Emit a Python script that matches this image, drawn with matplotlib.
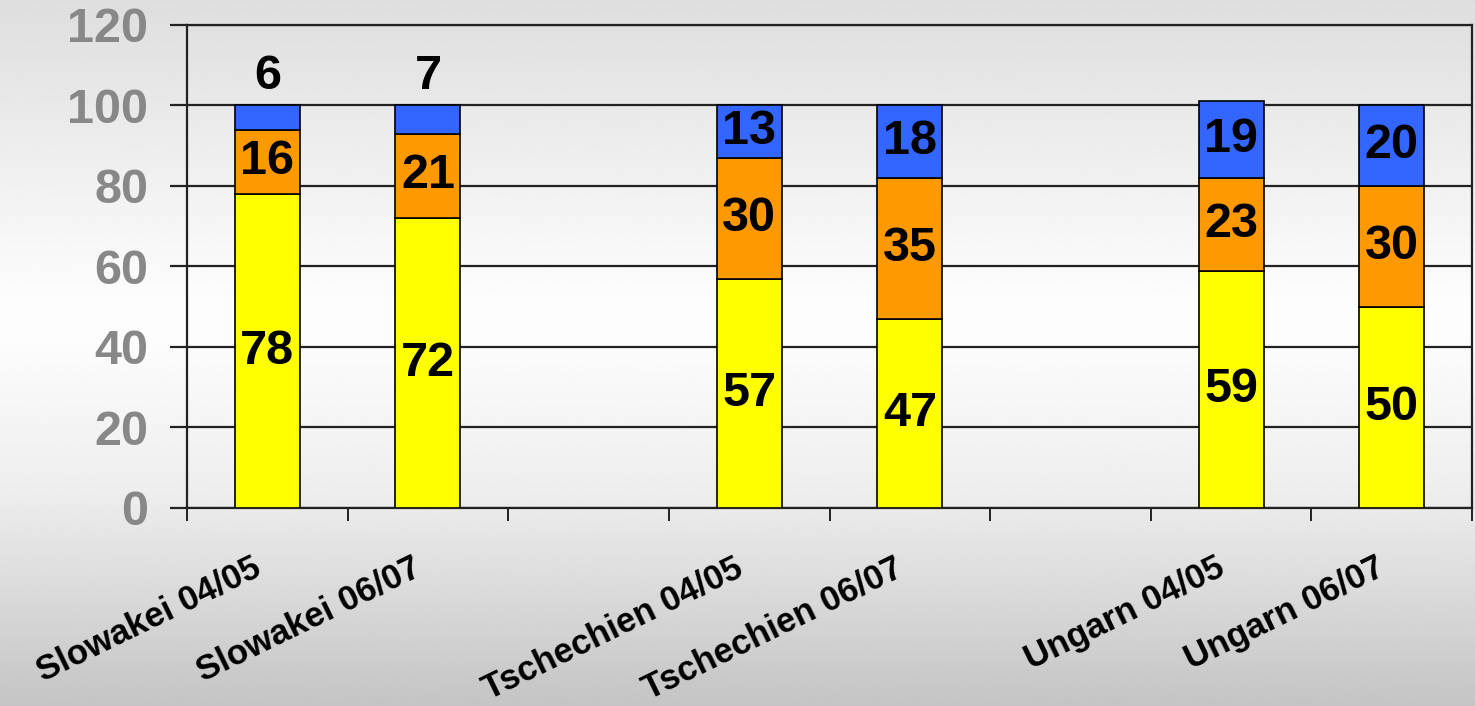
import numpy as np
import matplotlib.pyplot as plt
from matplotlib.ticker import FixedLocator
from matplotlib.transforms import ScaledTranslation

plt.rcParams['font.family'] = ['Liberation Sans', 'DejaVu Sans']

# data
kategorien = ['Slowakei 04/05', 'Slowakei 06/07',
              'Tschechien 04/05', 'Tschechien 06/07',
              'Ungarn 04/05', 'Ungarn 06/07']
gruppe = [0, 0, 1, 1, 2, 2]
gelb = [78, 72, 57, 47, 59, 50]
orange = [16, 21, 30, 35, 23, 30]
blau = [6, 7, 13, 18, 19, 20]
y_ticks = [0, 20, 40, 60, 80, 100, 120]

farben = ['#ffff00', '#ff9900', '#3366ff']

fig = plt.figure(figsize=(14.75, 7.06), dpi=100)

# grey gradient background
bg = fig.add_axes([0, 0, 1, 1], zorder=-10)
stops_y = [0.0, 0.42, 0.48, 0.70, 1.0]
stops_c = [0.87, 0.99, 0.99, 0.93, 0.77]
grad = np.interp(np.linspace(0, 1, 400), stops_y, stops_c)
bg.imshow(np.tile(grad[:, None], (1, 2)), cmap='gray', vmin=0, vmax=1,
          aspect='auto', extent=[0, 1, 0, 1], origin='upper')
bg.axis('off')

ax = fig.add_axes([0.1268, 0.2805, 0.8712, 0.6841])
ax.set_facecolor('none')

# positions: two bars per country, one empty slot between countries
x = np.array([g * 3 + i % 2 for i, g in enumerate(gruppe)])
breite = 0.405

unten = np.zeros(len(x))
for werte, farbe in zip([gelb, orange, blau], farben):
    werte = np.array(werte)
    ax.bar(x, werte, breite, bottom=unten, color=farbe,
           edgecolor='black', linewidth=1.2, zorder=3)
    for xi, b, v in zip(x, unten, werte):
        if v < 10:
            ax.text(xi, b + v + 1.5, str(v), ha='center', va='bottom',
                    fontsize=35, fontweight='bold', zorder=4)
        else:
            ax.text(xi, b + v / 2, str(v), ha='center', va='center',
                    fontsize=35, fontweight='bold', zorder=4)
    unten = unten + werte

ax.set_xlim(-0.5, 7.5)
ax.set_ylim(0, 120)
ax.set_yticks(y_ticks)
ax.yaxis.grid(True, color='#222222', linewidth=1.6, zorder=1)
ax.set_axisbelow(True)
for s in ax.spines.values():
    s.set_color('#222222')
    s.set_linewidth(1.6)

ax.tick_params(axis='y', length=12, width=1.6, color='#222222', pad=16,
               labelsize=35, labelcolor='#888888')
for t in ax.get_yticklabels():
    t.set_fontweight('bold')

ax.set_xticks(x)
ax.set_xticklabels(kategorien, rotation=26, ha='right',
                   rotation_mode='anchor', fontsize=25, fontweight='bold')
ax.tick_params(axis='x', which='major', length=0, pad=31)
verschiebung = ScaledTranslation(-0.16, 0, fig.dpi_scale_trans)
for t in ax.get_xticklabels():
    t.set_transform(t.get_transform() + verschiebung)
ax.xaxis.set_minor_locator(FixedLocator(np.arange(-0.5, 8.0, 1.0)))
ax.tick_params(axis='x', which='minor', length=9, width=1.4, color='#222222')

plt.savefig('out.png', dpi=100)
